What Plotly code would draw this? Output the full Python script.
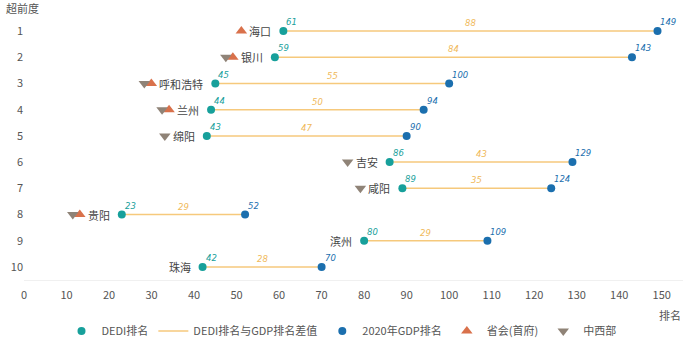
import plotly.graph_objects as go

# ---- data ----
cities = ["海口", "银川", "呼和浩特", "兰州", "绵阳", "吉安", "咸阳", "贵阳", "滨州", "珠海"]
lead_rank = [1, 2, 3, 4, 5, 6, 7, 8, 9, 10]
dedi_rank = [61, 59, 45, 44, 43, 86, 89, 23, 80, 42]
gdp_rank = [149, 143, 100, 94, 90, 129, 124, 52, 109, 70]
is_capital = [True, True, True, True, False, False, False, True, False, False]
is_midwest = [False, True, True, True, True, True, True, True, False, False]
x_ticks = [0, 10, 20, 30, 40, 50, 60, 70, 80, 90, 100, 110, 120, 130, 140, 150]

diff = [g - d for g, d in zip(gdp_rank, dedi_rank)]

# ---- layout geometry ----
W, H = 700, 342
ML, MR, MT, MB = 24, 17, 18, 62
XMAX = 155
PX = (W - ML - MR) / XMAX  # pixels per unit

C_DEDI = "#17a09b"
C_GDP = "#1b6fae"
C_LINE = "#f6c97c"
C_CAP = "#d9714b"
C_MID = "#8f8377"
FONT = "Noto Sans CJK SC"

LABEL_GAP = 10
CHAR_W = 11
TRI_GAP = 10
TRI_STEP = 7

cap_x, cap_y, mid_x, mid_y = [], [], [], []
for c, r, d, cap, mid in zip(cities, lead_rank, dedi_rank, is_capital, is_midwest):
    left_px = LABEL_GAP + len(c) * CHAR_W + TRI_GAP
    pos = d - left_px / PX
    if cap:
        cap_x.append(pos)
        cap_y.append(r)
        pos -= TRI_STEP / PX
    if mid:
        mid_x.append(pos)
        mid_y.append(r)

line_x, line_y = [], []
for r, d, g in zip(lead_rank, dedi_rank, gdp_rank):
    line_x += [d, g, None]
    line_y += [r, r, None]

fig = go.Figure()
fig.add_trace(go.Scatter(x=line_x, y=line_y, mode="lines", name="DEDI排名与GDP排名差值",
                         line=dict(color=C_LINE, width=1.5), legendrank=2))
fig.add_trace(go.Scatter(x=dedi_rank, y=lead_rank, mode="markers", name="DEDI排名",
                         marker=dict(color=C_DEDI, size=8), cliponaxis=False, legendrank=1))
fig.add_trace(go.Scatter(x=gdp_rank, y=lead_rank, mode="markers", name="2020年GDP排名",
                         marker=dict(color=C_GDP, size=8), cliponaxis=False, legendrank=3))
fig.add_trace(go.Scatter(x=cap_x, y=cap_y, mode="markers", name="省会(首府)",
                         marker=dict(color=C_CAP, size=10, symbol="triangle-up"), cliponaxis=False,
                         legendrank=4))
fig.add_trace(go.Scatter(x=mid_x, y=mid_y, mode="markers", name="中西部",
                         marker=dict(color=C_MID, size=10, symbol="triangle-down"), cliponaxis=False,
                         legendrank=5))

ann = []
numfont = dict(family="DejaVu Sans", size=8.5, style="italic")
for c, r, d, g, df in zip(cities, lead_rank, dedi_rank, gdp_rank, diff):
    ann.append(dict(x=d, y=r, text=c, showarrow=False, xanchor="right", yanchor="middle",
                    xshift=-LABEL_GAP, font=dict(family=FONT, size=11, color="#444")))
    ann.append(dict(x=d, y=r, text=str(d), showarrow=False, xanchor="left", yanchor="bottom",
                    xshift=1, yshift=2, font=dict(numfont, color=C_DEDI)))
    ann.append(dict(x=g, y=r, text=str(g), showarrow=False, xanchor="left", yanchor="bottom",
                    xshift=1, yshift=2, font=dict(numfont, color=C_GDP)))
    ann.append(dict(x=(d + g) / 2, y=r, text=str(df), showarrow=False, xanchor="center", yanchor="bottom",
                    yshift=1, font=dict(numfont, color="#f0b95a")))

ann.append(dict(xref="paper", yref="paper", x=0, y=1, xshift=-ML + 4, yshift=0, text="超前度",
                showarrow=False, xanchor="left", yanchor="bottom",
                font=dict(family=FONT, size=11, color="#555")))
ann.append(dict(xref="paper", yref="paper", x=1, y=0, xshift=0, yshift=-25, text="排名",
                showarrow=False, xanchor="right", yanchor="top",
                font=dict(family=FONT, size=11, color="#555")))

fig.update_layout(
    width=W, height=H,
    margin=dict(l=ML, r=MR, t=MT, b=MB, autoexpand=False),
    paper_bgcolor="white", plot_bgcolor="white",
    font=dict(family=FONT, size=11, color="#555"),
    annotations=ann,
    showlegend=True,
    legend=dict(orientation="h", x=0.5 - 12 / (W - ML - MR), xanchor="center", yref="container",
                y=1 - 331 / H, yanchor="middle", traceorder="normal",
                font=dict(family=FONT, size=11, color="#555"), itemwidth=30, tracegroupgap=0),
    xaxis=dict(range=[0, XMAX], tickvals=x_ticks, showgrid=False, zeroline=False,
               showline=True, linecolor="#f0f0f0", linewidth=1, ticks="", ticklabelstandoff=5,
               tickfont=dict(family=FONT, size=11, color="#555")),
    yaxis=dict(range=[10.5, 0.5], tickvals=lead_rank, showgrid=False, zeroline=False,
               showline=False, ticks="", tickfont=dict(family=FONT, size=11, color="#555")),
)

fig.write_html("out.html")
